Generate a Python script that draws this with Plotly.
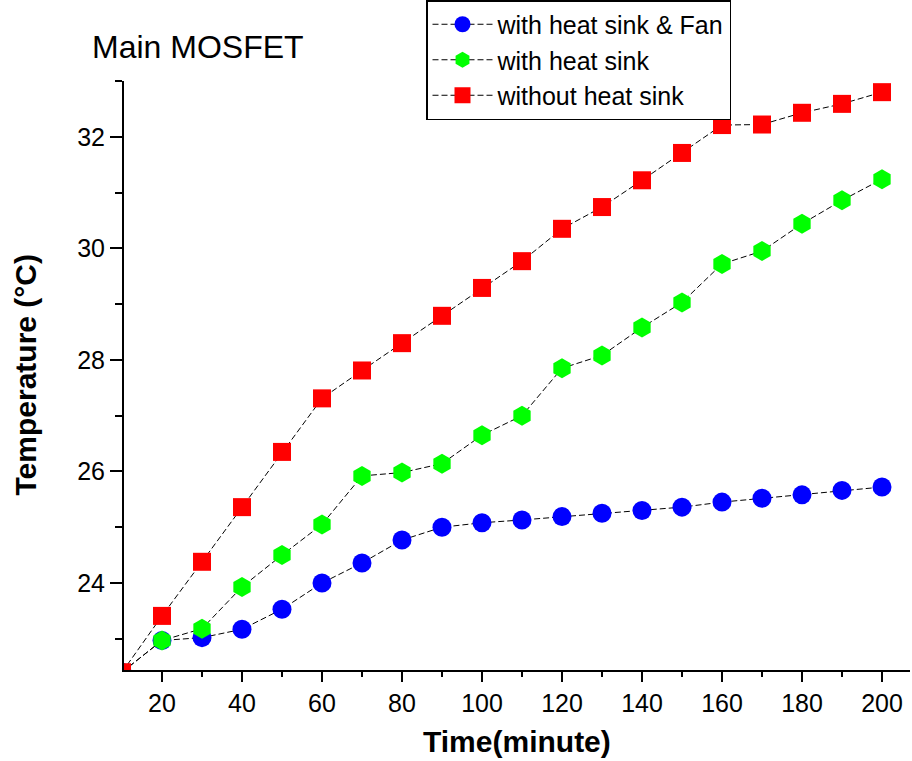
import plotly.graph_objects as go

time_min = [10, 20, 30, 40, 50, 60, 70, 80, 90, 100, 110, 120, 130, 140, 150, 160, 170, 180, 190, 200]
fan = [22.4, 22.97, 23.02, 23.17, 23.53, 24.0, 24.36, 24.77, 25.0, 25.08, 25.13, 25.19, 25.25, 25.3, 25.36, 25.45, 25.52, 25.58, 25.66, 25.72]
sink = [22.4, 22.97, 23.18, 23.93, 24.5, 25.05, 25.92, 25.98, 26.14, 26.65, 27.0, 27.85, 28.08, 28.58, 29.03, 29.72, 29.95, 30.44, 30.86, 31.24]
nosink = [22.4, 23.41, 24.38, 25.36, 26.35, 27.31, 27.81, 28.3, 28.79, 29.29, 29.77, 30.35, 30.74, 31.22, 31.71, 32.21, 32.22, 32.43, 32.59, 32.8]

names = ["with heat sink & Fan", "with heat sink", "without heat sink"]
colors = ["#0000ff", "#00ff00", "#ff0000"]
symbols = ["circle", "hexagon", "square"]
sizes = [19, 20, 18]
series = [fan, sink, nosink]

fig = go.Figure()
for name, ys, c, s, sz in zip(names, series, colors, symbols, sizes):
    fig.add_trace(go.Scatter(
        x=time_min, y=ys, name=name, mode="lines+markers",
        line=dict(color="black", width=1, dash="6px,3px"),
        marker=dict(color=c, symbol=s, size=sz, line=dict(width=0)),
    ))

W, H = 912, 761
L, R, T, B = 124, 2, 81, 91
pw, ph = W - L - R, H - T - B

def px(x):
    return (x - L) / pw

def py(y):
    return (H - B - y) / ph

fig.update_layout(
    width=W, height=H,
    margin=dict(l=L, r=R, t=T, b=B, autoexpand=False),
    paper_bgcolor="white", plot_bgcolor="white",
    font=dict(family="Arial, Liberation Sans, sans-serif", color="black"),
    showlegend=True,
    legend=dict(
        x=px(426), y=py(0), xanchor="left", yanchor="top",
        bgcolor="white", bordercolor="black", borderwidth=1.5,
        font=dict(size=25, color="black"), itemwidth=60,
        tracegroupgap=0,
    ),
    xaxis=dict(
        range=[10.5, 207], showgrid=False, zeroline=False,
        showline=True, linecolor="black", linewidth=2,
        ticks="outside", ticklen=10, tickwidth=1.5, tickcolor="black",
        tick0=20, dtick=20, tickfont=dict(size=25),
        minor=dict(ticks="outside", ticklen=5, tickwidth=1.5, tickcolor="black", dtick=10, tick0=0),
        mirror=False,
    ),
    yaxis=dict(
        range=[22.44, 33.0], showgrid=False, zeroline=False,
        showline=True, linecolor="black", linewidth=2,
        ticks="outside", ticklen=12, tickwidth=1.5, tickcolor="black",
        tick0=24, dtick=2, tickfont=dict(size=25),
        minor=dict(ticks="outside", ticklen=7, tickwidth=1.5, tickcolor="black", dtick=1, tick0=23),
    ),
    annotations=[
        dict(text="Main MOSFET", xref="paper", yref="paper", x=px(90), y=py(47),
             xanchor="left", yanchor="middle", showarrow=False, font=dict(size=32)),
        dict(text="<b>Time(minute)</b>", xref="paper", yref="paper", x=0.5, y=py(741),
             xanchor="center", yanchor="middle", showarrow=False, font=dict(size=30)),
        dict(text="<b>Temperature (°C)</b>", xref="paper", yref="paper", x=px(25), y=0.5,
             xanchor="center", yanchor="middle", textangle=-90, showarrow=False, font=dict(size=30)),
    ],
)

fig.write_html("out.html")
